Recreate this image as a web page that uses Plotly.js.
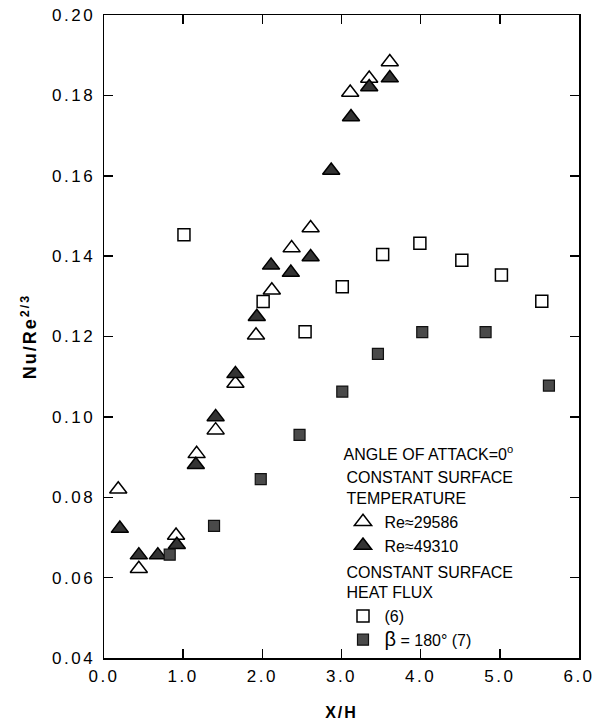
<!DOCTYPE html>
<html>
<head>
<meta charset="utf-8">
<script src="https://cdn.plot.ly/plotly-3.0.1.min.js"></script>
<style>
  html, body { margin: 0; padding: 0; background: #fff; }
  #chart { width: 597px; height: 721px; }
  .xtick text, .ytick text { letter-spacing: 2.5px; }
  .xtitle, .ytitle { letter-spacing: 2px; }
</style>
</head>
<body>
<div id="chart"></div>
<script>
// Constant surface temperature, Re = 29586 (open triangles)
const openTriX = [0.18, 0.44, 0.91, 1.17, 1.41, 1.66, 1.92, 2.12, 2.37, 2.61, 3.11, 3.35, 3.61];
const openTriY = [0.0820, 0.0622, 0.0705, 0.0908, 0.0967, 0.1083, 0.1203, 0.1315, 0.1420, 0.1470, 0.1807, 0.1842, 0.1883];

// Constant surface temperature, Re = 49310 (filled triangles)
const fillTriX = [0.20, 0.44, 0.68, 0.92, 1.16, 1.41, 1.66, 1.93, 2.11, 2.36, 2.61, 2.87, 3.12, 3.35, 3.61];
const fillTriY = [0.0722, 0.0656, 0.0656, 0.0682, 0.0881, 0.1000, 0.1107, 0.1249, 0.1377, 0.1359, 0.1398, 0.1613, 0.1746, 0.1821, 0.1843];

// Constant surface heat flux, ref (6) (open squares)
const openSqX = [1.01, 2.01, 2.54, 3.01, 3.52, 3.99, 4.52, 5.02, 5.53];
const openSqY = [0.1453, 0.1287, 0.1212, 0.1324, 0.1404, 0.1432, 0.1390, 0.1353, 0.1288];

// Constant surface heat flux, beta = 180 deg, ref (7) (filled squares)
const fillSqX = [0.83, 1.39, 1.98, 2.47, 3.01, 3.46, 4.02, 4.82, 5.62];
const fillSqY = [0.0657, 0.0729, 0.0845, 0.0955, 0.1063, 0.1157, 0.1211, 0.1211, 0.1078];

const seriesNames = ['Re\u224829586', 'Re\u224849310', '(6)', '<span style="font-size:20px">\u03b2</span> = 180\u00b0 (7)'];
const groupTitles = ['CONSTANT SURFACE<br>TEMPERATURE', 'CONSTANT SURFACE<br>HEAT FLUX'];
const legendTitle = 'ANGLE OF ATTACK=0<sup>o</sup>';
const xTitle = 'X/H';
const yTitle = 'Nu/Re<sup>2/3</sup>';

const FONT = 'Liberation Sans, Arial, Helvetica, sans-serif';

const traces = [
  {
    x: openTriX, y: openTriY, type: 'scatter', mode: 'markers', name: seriesNames[0],
    legendgroup: 'temp', legendgrouptitle: { text: groupTitles[0], font: { family: FONT, size: 16, color: '#000' } },
    marker: { symbol: 'triangle-up', size: 15, color: '#fff', line: { color: '#000', width: 1.5 } }
  },
  {
    x: fillTriX, y: fillTriY, type: 'scatter', mode: 'markers', name: seriesNames[1],
    legendgroup: 'temp',
    marker: { symbol: 'triangle-up', size: 15, color: '#333', line: { color: '#000', width: 1.5 } }
  },
  {
    x: openSqX, y: openSqY, type: 'scatter', mode: 'markers', name: seriesNames[2],
    legendgroup: 'flux', legendgrouptitle: { text: groupTitles[1], font: { family: FONT, size: 16, color: '#000' } },
    marker: { symbol: 'square', size: 12, color: '#fff', line: { color: '#000', width: 1.5 } }
  },
  {
    x: fillSqX, y: fillSqY, type: 'scatter', mode: 'markers', name: seriesNames[3],
    legendgroup: 'flux',
    marker: { symbol: 'square', size: 11, color: '#4a4a4a', line: { color: '#111', width: 1.2 } }
  }
];

const layout = {
  width: 597, height: 721,
  margin: { l: 104, r: 18, t: 15, b: 63, pad: 0 },
  paper_bgcolor: '#fff', plot_bgcolor: '#fff',
  font: { family: FONT, size: 17, color: '#000' },
  showlegend: true,
  legend: {
    x: 0.50, y: 0.340, xanchor: 'left', yanchor: 'top',
    bgcolor: 'rgba(0,0,0,0)', borderwidth: 0,
    traceorder: 'grouped', tracegroupgap: 2, itemwidth: 33,
    font: { family: FONT, size: 16, color: '#000' },
    title: { text: legendTitle, font: { family: FONT, size: 16, color: '#000' } }
  },
  xaxis: {
    range: [0, 6], tickmode: 'linear', tick0: 0, dtick: 1, tickformat: '.1f',
    ticks: 'inside', ticklen: 9, tickwidth: 1.5, tickcolor: '#000',
    showline: true, linewidth: 1.5, linecolor: '#000', mirror: 'ticks',
    showgrid: false, zeroline: false,
    tickfont: { family: FONT, size: 17, color: '#000' },
    ticklabelstandoff: 2,
    title: { text: xTitle, font: { family: FONT, size: 16, color: '#000', weight: 'bold' }, standoff: 24 }
  },
  yaxis: {
    range: [0.04, 0.20], tickmode: 'linear', tick0: 0.04, dtick: 0.02, tickformat: '.2f',
    ticks: 'inside', ticklen: 9, tickwidth: 1.5, tickcolor: '#000',
    showline: true, linewidth: 1.5, linecolor: '#000', mirror: 'ticks',
    showgrid: false, zeroline: false,
    tickfont: { family: FONT, size: 17, color: '#000' },
    ticklabelstandoff: 4,
    title: { text: yTitle, font: { family: FONT, size: 18, color: '#000', weight: 'bold' }, standoff: 10 }
  }
};

Plotly.newPlot('chart', traces, layout, { staticPlot: true, displayModeBar: false });
</script>
</body>
</html>
